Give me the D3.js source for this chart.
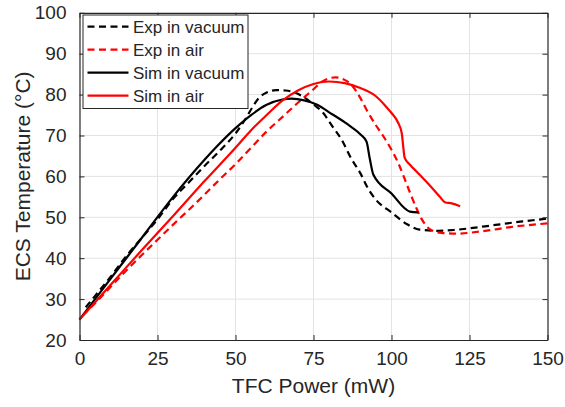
<!DOCTYPE html>
<html>
<head>
<meta charset="utf-8">
<script src="https://cdn.jsdelivr.net/npm/d3@7"></script>
<style>
  body { margin: 0; background: #fff; }
  svg text { font-family: "Liberation Sans", Arial, sans-serif; fill: #262626; }
</style>
</head>
<body>
<svg id="chart" width="565" height="407"></svg>
<script>
// TFC power (mW) / ECS temperature (degC)
var expVacX = [2, 5, 10, 15, 20, 25, 30, 35, 40, 45, 50, 53, 55.5, 57.5, 60, 63, 66, 69, 72, 75, 78, 81, 84, 87, 90, 92.5, 95, 100, 105, 109, 115, 120, 125, 130, 136, 142, 149, 150];
var expVacY = [28, 30.8, 35.5, 40.5, 45, 49.5, 54.5, 58.5, 62.5, 66.3, 70.5, 73.8, 77, 79.2, 80.5, 81.1, 81, 80.5, 79.3, 77.6, 75.6, 72.3, 69, 64.5, 60.8, 57, 54.3, 51.2, 48.3, 47, 46.7, 46.9, 47.3, 47.8, 48.4, 49, 49.6, 49.7];

var expAirX = [1, 5, 10, 15, 20, 25, 30, 35, 40, 45, 50, 55, 60, 65, 70, 75, 78, 82, 85, 87, 90, 92, 95, 97.5, 100, 102.2, 104, 106, 108, 109.5, 111.5, 113.5, 116, 121, 128, 133, 138, 144, 150];
var expAirY = [26, 29, 33, 37, 40.8, 44.5, 48.2, 51.8, 55.5, 59.3, 63, 67, 71, 74.5, 78, 81.3, 83.3, 84.2, 83.6, 82.5, 79.2, 76.3, 72.5, 69.7, 66.5, 63.2, 59.8, 55.9, 52.2, 49.8, 47.6, 46.6, 46.2, 46, 46.5, 47, 47.6, 48.1, 48.5];

var simVacX = [0, 10, 20, 30, 40, 44, 50, 55, 60, 65, 68, 72, 76, 81, 86, 90, 92, 93, 94.2, 100, 105.9, 108.6];
var simVacY = [25, 35, 45, 55, 64, 67.3, 71.8, 75, 77.5, 78.8, 79, 78.6, 77.6, 75.2, 72.7, 70.3, 68.5, 64.5, 60.4, 55.8, 51.4, 51.2];

var simAirX = [0, 10, 20, 30, 40, 50, 55, 60, 65, 70, 75, 80, 85, 90, 95, 98, 100, 102, 103.3, 103.8, 104.2, 106, 108, 112, 115.5, 117.1, 119.3, 122];
var simAirY = [25, 33.5, 42, 50.3, 58.8, 67, 71.3, 75, 78.5, 81, 82.6, 83.2, 82.8, 81.6, 79.6, 77.3, 75.5, 73.3, 70.5, 67, 64.6, 62.8, 61.2, 58, 55, 53.7, 53.4, 52.7];

var seriesNames = ["Exp in vacuum", "Exp in air", "Sim in vacuum", "Sim in air"];
var seriesColors = ["#000000", "#ff0000", "#000000", "#ff0000"];
var seriesDashed = [true, true, false, false];

var xTicks = [0, 25, 50, 75, 100, 125, 150];
var yTicks = [20, 30, 40, 50, 60, 70, 80, 90, 100];

function drawChart() {
    var svg = d3.select("#chart");
    var pL = 79.5, pR = 547.5, pT = 12.8, pB = 340;

    var x = d3.scaleLinear().domain([0, 150]).range([pL, pR]);
    var y = d3.scaleLinear().domain([20, 100]).range([pB, pT]);

    // grid
    svg.append("g").selectAll("line").data(xTicks.slice(1, -1)).enter().append("line")
        .attr("x1", d => x(d)).attr("x2", d => x(d)).attr("y1", pT).attr("y2", pB)
        .attr("stroke", "#e3e3e3").attr("stroke-width", 1);
    svg.append("g").selectAll("line").data(yTicks.slice(1, -1)).enter().append("line")
        .attr("y1", d => y(d)).attr("y2", d => y(d)).attr("x1", pL).attr("x2", pR)
        .attr("stroke", "#e3e3e3").attr("stroke-width", 1);

    // series
    var series = [
        d3.zip(expVacX, expVacY),
        d3.zip(expAirX, expAirY),
        d3.zip(simVacX, simVacY),
        d3.zip(simAirX, simAirY)
    ];
    var line = d3.line().x(d => x(d[0])).y(d => y(d[1])).curve(d3.curveMonotoneX);

    svg.append("g").selectAll("path").data(series).enter().append("path")
        .attr("d", line)
        .attr("fill", "none")
        .attr("stroke", (d, i) => seriesColors[i])
        .attr("stroke-width", 2.2)
        .attr("stroke-dasharray", (d, i) => seriesDashed[i] ? "7,4.5" : null);

    // axes (inner ticks, box on)
    var ax = svg.append("g").attr("class", "axes");
    ax.append("g").attr("transform", "translate(0," + pB + ")")
        .call(d3.axisBottom(x).tickValues(xTicks).tickSizeInner(-5).tickSizeOuter(0).tickPadding(12));
    ax.append("g").attr("transform", "translate(0," + pT + ")")
        .call(d3.axisTop(x).tickValues(xTicks).tickSizeInner(-5).tickSizeOuter(0).tickFormat(""));
    ax.append("g").attr("transform", "translate(" + pL + ",0)")
        .call(d3.axisLeft(y).tickValues(yTicks).tickSizeInner(-5).tickSizeOuter(0).tickPadding(13));
    ax.append("g").attr("transform", "translate(" + pR + ",0)")
        .call(d3.axisRight(y).tickValues(yTicks).tickSizeInner(-5).tickSizeOuter(0).tickFormat(""));
    ax.selectAll("path.domain").attr("stroke", "#262626").attr("stroke-width", 1.2);
    ax.selectAll(".tick line").attr("stroke", "#262626");
    ax.selectAll(".tick text").attr("font-size", 19).attr("fill", "#262626")
        .style("font-family", "'Liberation Sans', Arial, sans-serif");

    // axis labels
    svg.append("text").attr("x", (pL + pR) / 2).attr("y", 393)
        .attr("text-anchor", "middle").attr("font-size", 21).text("TFC Power (mW)");
    svg.append("text").attr("transform", "translate(30," + ((pT + pB) / 2) + ") rotate(-90)")
        .attr("text-anchor", "middle").attr("font-size", 21).text("ECS Temperature (°C)");

    // legend
    var lg = svg.append("g").attr("transform", "translate(83,15)");
    lg.append("rect").attr("x", 0).attr("y", 0).attr("width", 165).attr("height", 93.5)
        .attr("fill", "#fff").attr("stroke", "#262626").attr("stroke-width", 1);
    var rows = lg.selectAll("g.row").data(seriesNames).enter().append("g")
        .attr("transform", (d, i) => "translate(0," + (11.7 + i * 23) + ")");
    rows.append("line").attr("x1", 4.5).attr("x2", 45.5).attr("y1", 0).attr("y2", 0)
        .attr("stroke", (d, i) => seriesColors[i]).attr("stroke-width", 2.2)
        .attr("stroke-dasharray", (d, i) => seriesDashed[i] ? "7,4.5" : null);
    rows.append("text").attr("x", 50).attr("y", 6).attr("font-size", 17).text(d => d);
}
drawChart();
</script>
</body>
</html>
